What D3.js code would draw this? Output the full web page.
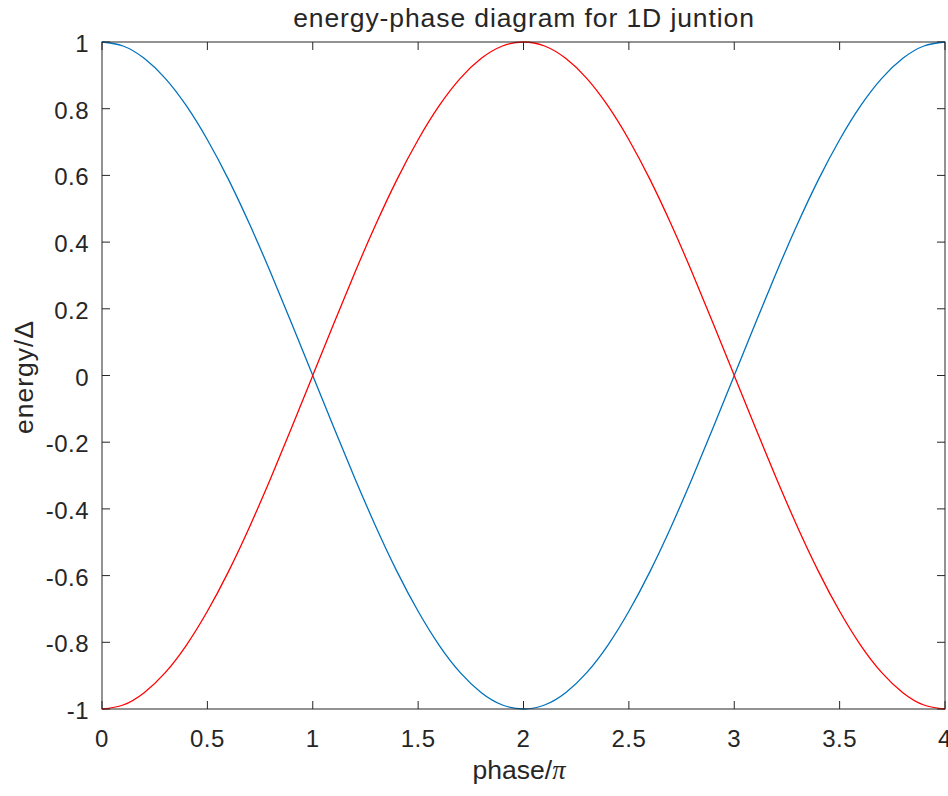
<!DOCTYPE html>
<html>
<head>
<meta charset="utf-8">
<script src="https://cdn.jsdelivr.net/npm/d3@7/dist/d3.min.js"></script>
<style>
  body { margin: 0; background: #fff; }
  text { font-family: "Liberation Sans", Arial, sans-serif; fill: #262626; }
</style>
</head>
<body>
<script>
// phase values (in units of pi)
const phase = [0, 0.1, 0.2, 0.3, 0.4, 0.5, 0.6, 0.7, 0.8, 0.9,
  1, 1.1, 1.2, 1.3, 1.4, 1.5, 1.6, 1.7, 1.8, 1.9,
  2, 2.1, 2.2, 2.3, 2.4, 2.5, 2.6, 2.7, 2.8, 2.9,
  3, 3.1, 3.2, 3.3, 3.4, 3.5, 3.6, 3.7, 3.8, 3.9, 4];
// blue branch
const energyBlue = [1, 0.988, 0.951, 0.891, 0.809, 0.707, 0.588, 0.454, 0.309, 0.156,
  0, -0.156, -0.309, -0.454, -0.588, -0.707, -0.809, -0.891, -0.951, -0.988,
  -1, -0.988, -0.951, -0.891, -0.809, -0.707, -0.588, -0.454, -0.309, -0.156,
  0, 0.156, 0.309, 0.454, 0.588, 0.707, 0.809, 0.891, 0.951, 0.988, 1];
// red branch
const energyRed = [-1, -0.988, -0.951, -0.891, -0.809, -0.707, -0.588, -0.454, -0.309, -0.156,
  0, 0.156, 0.309, 0.454, 0.588, 0.707, 0.809, 0.891, 0.951, 0.988,
  1, 0.988, 0.951, 0.891, 0.809, 0.707, 0.588, 0.454, 0.309, 0.156,
  0, -0.156, -0.309, -0.454, -0.588, -0.707, -0.809, -0.891, -0.951, -0.988, -1];

const xTicks = [0, 0.5, 1, 1.5, 2, 2.5, 3, 3.5, 4];
const yTicks = [-1, -0.8, -0.6, -0.4, -0.2, 0, 0.2, 0.4, 0.6, 0.8, 1];

let w = 948;
let h = 796;
let pLeft = 102, pRight = 945, pTop = 42, pBottom = 709;
let tickLen = 8;

let svg = d3.select("body")
    .append("svg")
    .attr('width', w)
    .attr('height', h);

let x = d3.scaleLinear().domain([0, 4]).range([pLeft, pRight]);
let y = d3.scaleLinear().domain([-1, 1]).range([pBottom, pTop]);

// ticks (inward, on all four sides)
let tickG = svg.append('g').attr('stroke', '#262626').attr('stroke-width', 1);
xTicks.forEach(t => {
    tickG.append('line').attr('x1', x(t)).attr('x2', x(t)).attr('y1', pBottom).attr('y2', pBottom - tickLen);
    tickG.append('line').attr('x1', x(t)).attr('x2', x(t)).attr('y1', pTop).attr('y2', pTop + tickLen);
});
yTicks.forEach(t => {
    tickG.append('line').attr('x1', pLeft).attr('x2', pLeft + tickLen).attr('y1', y(t)).attr('y2', y(t));
    tickG.append('line').attr('x1', pRight).attr('x2', pRight - tickLen).attr('y1', y(t)).attr('y2', y(t));
});

// tick labels
svg.selectAll('.xl')
    .data(xTicks)
    .enter()
    .append('text')
    .attr('x', d => x(d))
    .attr('y', 747)
    .attr('text-anchor', 'middle')
    .style('font-size', '24px')
    .style('letter-spacing', '0.5px')
    .text(d => d);

svg.selectAll('.yl')
    .data(yTicks)
    .enter()
    .append('text')
    .attr('x', 89)
    .attr('y', d => y(d) + 10)
    .attr('text-anchor', 'end')
    .style('font-size', '24px')
    .style('letter-spacing', '0.5px')
    .text(d => d);

// curves
let line = d3.line()
    .x((d, i) => x(phase[i]))
    .y(d => y(d))
    .curve(d3.curveNatural);

svg.append('path')
    .attr('d', line(energyBlue))
    .attr('fill', 'none')
    .attr('stroke', '#0072BD')
    .attr('stroke-width', 1.3);

svg.append('path')
    .attr('d', line(energyRed))
    .attr('fill', 'none')
    .attr('stroke', '#FF0000')
    .attr('stroke-width', 1.3);

// axes box
svg.append('rect')
    .attr('x', pLeft)
    .attr('y', pTop)
    .attr('width', pRight - pLeft)
    .attr('height', pBottom - pTop)
    .attr('fill', 'none')
    .attr('stroke', '#262626')
    .attr('stroke-width', 1);

// title and labels
svg.append('text')
    .attr('x', 524)
    .attr('y', 27)
    .attr('text-anchor', 'middle')
    .style('font-size', '26.5px')
    .style('letter-spacing', '0.9px')
    .text('energy-phase diagram for 1D juntion');

let xl = svg.append('text')
    .attr('x', 519)
    .attr('y', 779)
    .attr('text-anchor', 'middle')
    .style('font-size', '26.5px');
xl.append('tspan').text('phase/');
xl.append('tspan').style('font-family', '"Liberation Serif", serif').style('font-style', 'italic').text('π');

svg.append('text')
    .attr('transform', 'translate(33, 377) rotate(-90)')
    .attr('text-anchor', 'middle')
    .style('font-size', '26.5px')
    .style('letter-spacing', '1px')
    .text('energy/Δ');
</script>
</body>
</html>
